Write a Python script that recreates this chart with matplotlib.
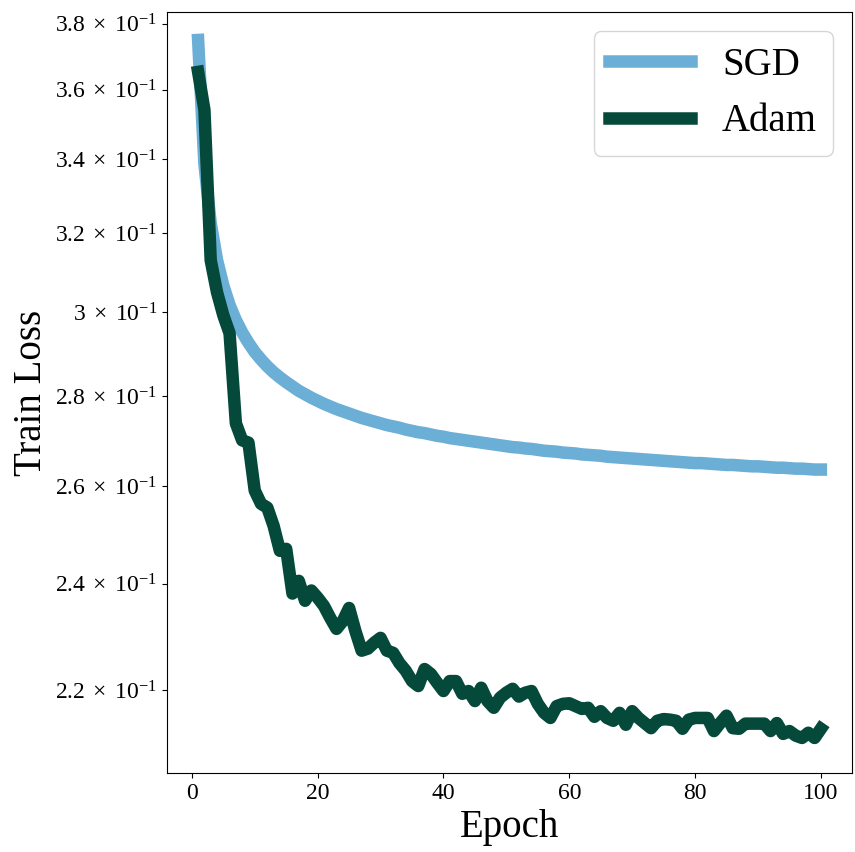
import matplotlib
matplotlib.use('Agg')
import matplotlib.pyplot as plt
import matplotlib.ticker as mticker

plt.rcParams['font.family'] = ['Liberation Serif', 'DejaVu Serif']
plt.rcParams['mathtext.fontset'] = 'dejavusans'

# Data
epochs = list(range(1, 101))

sgd_loss = [
    0.3750, 0.3387, 0.3227, 0.3131, 0.3066, 0.3017, 0.2980, 0.2950, 0.2925, 0.2903,
    0.2885, 0.2869, 0.2855, 0.2843, 0.2832, 0.2822, 0.2812, 0.2804, 0.2796, 0.2789,
    0.2782, 0.2776, 0.2770, 0.2765, 0.2760, 0.2755, 0.2750, 0.2746, 0.2742, 0.2738,
    0.2734, 0.2731, 0.2728, 0.2724, 0.2721, 0.2718, 0.2716, 0.2713, 0.2710, 0.2708,
    0.2705, 0.2703, 0.2701, 0.2699, 0.2697, 0.2695, 0.2693, 0.2691, 0.2689, 0.2687,
    0.2685, 0.2684, 0.2682, 0.2681, 0.2679, 0.2677, 0.2676, 0.2675, 0.2673, 0.2672,
    0.2671, 0.2669, 0.2668, 0.2667, 0.2666, 0.2664, 0.2663, 0.2662, 0.2661, 0.2660,
    0.2659, 0.2658, 0.2657, 0.2656, 0.2655, 0.2654, 0.2653, 0.2652, 0.2651, 0.2650,
    0.2650, 0.2649, 0.2648, 0.2647, 0.2646, 0.2646, 0.2645, 0.2644, 0.2643, 0.2643,
    0.2642, 0.2641, 0.2640, 0.2640, 0.2639, 0.2638, 0.2638, 0.2637, 0.2636, 0.2636,
]

adam_loss = [
    0.3653, 0.3541, 0.3130, 0.3049, 0.2992, 0.2948, 0.2738, 0.2700, 0.2695, 0.2591,
    0.2563, 0.2555, 0.2517, 0.2466, 0.2470, 0.2381, 0.2406, 0.2367, 0.2387, 0.2373,
    0.2357, 0.2334, 0.2313, 0.2328, 0.2353, 0.2309, 0.2272, 0.2276, 0.2287, 0.2296,
    0.2272, 0.2268, 0.2249, 0.2235, 0.2216, 0.2207, 0.2238, 0.2229, 0.2213, 0.2198,
    0.2216, 0.2216, 0.2193, 0.2198, 0.2180, 0.2204, 0.2180, 0.2168, 0.2186, 0.2195,
    0.2202, 0.2188, 0.2195, 0.2198, 0.2175, 0.2159, 0.2150, 0.2171, 0.2175, 0.2176,
    0.2171, 0.2166, 0.2168, 0.2152, 0.2162, 0.2150, 0.2145, 0.2159, 0.2138, 0.2162,
    0.2150, 0.2141, 0.2132, 0.2145, 0.2148, 0.2147, 0.2145, 0.2131, 0.2147, 0.2150,
    0.2150, 0.2150, 0.2127, 0.2141, 0.2154, 0.2132, 0.2131, 0.2140, 0.2140, 0.2140,
    0.2140, 0.2127, 0.2141, 0.2122, 0.2127, 0.2119, 0.2115, 0.2124, 0.2115, 0.2131,
]

ytick_values = [0.22, 0.24, 0.26, 0.28, 0.30, 0.32, 0.34, 0.36, 0.38]
ytick_mantissas = ['2.2', '2.4', '2.6', '2.8', '3', '3.2', '3.4', '3.6', '3.8']
xtick_values = [0, 20, 40, 60, 80, 100]

fig = plt.figure(figsize=(8.55, 8.52), dpi=100)
ax = fig.add_axes([0.1953, 0.0927, 0.8012, 0.8932])

ax.plot(epochs, sgd_loss, color='#6baed6', lw=9, label='SGD')
ax.plot(epochs, adam_loss, color='#04493a', lw=9, label='Adam')

ax.set_yscale('log')
ax.set_ylim(0.2055, 0.3837)
ax.set_xlim(-3.95, 104.95)

ax.yaxis.set_minor_locator(mticker.NullLocator())
ax.set_yticks(ytick_values,
              [r'$\mathdefault{%s\,\times\,10^{-1}}$' % m for m in ytick_mantissas])
ax.set_xticks(xtick_values)
ax.tick_params(labelsize=17)

ax.set_xlabel('Epoch', fontsize=28)
ax.set_ylabel('Train Loss', fontsize=28)

ax.legend(fontsize=28, loc='upper right', handlelength=2.1)

fig.savefig('out.png', dpi=100)
